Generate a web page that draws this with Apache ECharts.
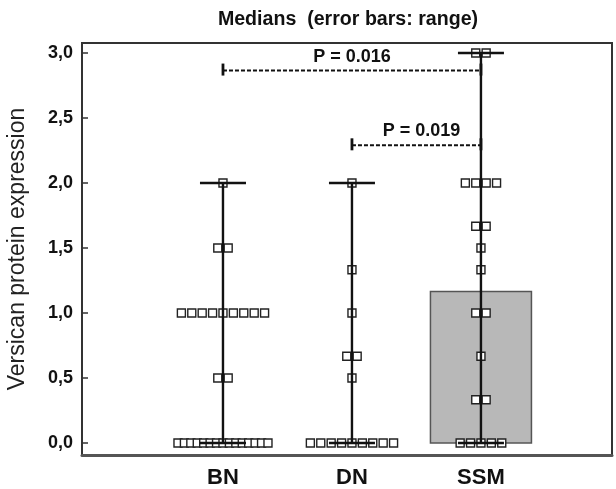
<!DOCTYPE html>
<html>
<head>
<meta charset="utf-8">
<script src="https://cdn.jsdelivr.net/npm/echarts@6/dist/echarts.min.js"></script>
<style>html,body{margin:0;padding:0;background:#fff;}#c{width:616px;height:489px;}</style>
</head>
<body>
<div id="c"></div>
<script>
// ---- data ----
var categories = ['BN', 'DN', 'SSM'];
var bnValues  = [0,0,0,0,0,0,0,0,0,0,0,0,0,0,0, 0.5,0.5, 1,1,1,1,1,1,1,1,1, 1.5,1.5, 2];
var dnValues  = [0,0,0,0,0,0,0,0,0, 0.5, 0.667,0.667, 1, 1.333, 2];
var ssmValues = [0,0,0,0,0, 0.333,0.333, 0.667, 1,1, 1.333, 1.5, 1.667,1.667, 2,2,2,2, 3,3];
var yTickValues = [0, 0.5, 1, 1.5, 2, 2.5, 3];
var comparisons = [
  { from: 'BN', to: 'SSM', level: 2.865, text: 'P = 0.016' },
  { from: 'DN', to: 'SSM', level: 2.29,  text: 'P = 0.019' }
];
var titleText = 'Medians  (error bars: range)';
var yAxisTitle = 'Versican protein expression';

var groups = [bnValues, dnValues, ssmValues];

function median(arr) {
  var s = arr.slice().sort(function (a, b) { return a - b; });
  var n = s.length;
  return n % 2 ? s[(n - 1) / 2] : (s[n / 2 - 1] + s[n / 2]) / 2;
}

var FONT = '"Liberation Sans", Arial, sans-serif';

// bars (medians) and ranges
var barData = groups.map(function (g, i) { return [i + 1, median(g)]; });
var rangeData = groups.map(function (g, i) {
  return [i + 1, Math.min.apply(null, g), Math.max.apply(null, g)];
});

// dot plot points, spread side by side at equal values
var pointData = [];
groups.forEach(function (g, gi) {
  var counts = {};
  g.forEach(function (v) { counts[v] = (counts[v] || 0) + 1; });
  Object.keys(counts).forEach(function (k) {
    var n = counts[k];
    var pitch = n > 1 ? Math.min(10.4, 90 / (n - 1)) : 0;
    for (var j = 0; j < n; j++) {
      pointData.push({
        value: [gi + 1, parseFloat(k)],
        symbolOffset: [(j - (n - 1) / 2) * pitch, 0]
      });
    }
  });
});

var bracketData = comparisons.map(function (c) {
  return [categories.indexOf(c.from) + 1, categories.indexOf(c.to) + 1, c.level];
});

var chart = echarts.init(document.getElementById('c'), null, { renderer: 'canvas' });
chart.setOption({
  animation: false,
  backgroundColor: '#fff',
  textStyle: { fontFamily: FONT },
  grid: { left: 82, right: 4, top: 43, bottom: 34, show: true, borderColor: '#333', borderWidth: 2 },
  graphic: [
    { type: 'text', x: 348, y: 20, style: { text: titleText, textAlign: 'center', textVerticalAlign: 'middle', font: 'bold 19.6px ' + FONT, fill: '#111' } },
    { type: 'text', x: 18, y: 249, rotation: Math.PI / 2, style: { text: yAxisTitle, textAlign: 'center', textVerticalAlign: 'middle', font: '23px ' + FONT, fill: '#222' } }
  ],
  xAxis: {
    type: 'value', min: -0.093, max: 4.016,
    splitLine: { show: false },
    axisLine: { show: true, onZero: false, lineStyle: { color: '#555', width: 3 } },
    axisTick: { show: false },
    axisLabel: {
      customValues: [1, 2, 3],
      formatter: function (v) { return categories[Math.round(v) - 1] || ''; },
      fontSize: 22, fontWeight: 'bold', color: '#111', margin: 12, fontFamily: FONT
    }
  },
  yAxis: {
    type: 'value', min: -0.092, max: 3.077,
    splitLine: { show: false },
    axisLine: { show: true, onZero: false, lineStyle: { color: '#333', width: 2 } },
    axisTick: { show: true, inside: true, length: 6, customValues: yTickValues, lineStyle: { color: '#333', width: 1.5 } },
    axisLabel: {
      customValues: yTickValues,
      formatter: function (v) { return v.toFixed(1).replace('.', ','); },
      fontSize: 18, fontWeight: 'bold', color: '#111', margin: 9, fontFamily: FONT
    }
  },
  series: [
    {
      type: 'custom', z: 1, data: barData, clip: false,
      renderItem: function (params, api) {
        var x = api.value(0), m = api.value(1);
        if (!(m > 0)) return null;
        var p0 = api.coord([x, 0]), p1 = api.coord([x, m]);
        return { type: 'rect', shape: { x: p0[0] - 50.5, y: p1[1], width: 101, height: p0[1] - p1[1] },
                 style: { fill: '#b8b8b8', stroke: '#555', lineWidth: 1.5 } };
      }
    },
    {
      type: 'scatter', z: 2, data: pointData, symbol: 'rect', symbolSize: 8,
      itemStyle: { color: '#fff', borderColor: '#222', borderWidth: 1.4, opacity: 1 }
    },
    {
      type: 'custom', z: 3, data: rangeData, clip: false,
      renderItem: function (params, api) {
        var x = api.value(0);
        var lo = api.coord([x, api.value(1)]), hi = api.coord([x, api.value(2)]);
        var st = { stroke: '#111', lineWidth: 2.4 };
        return { type: 'group', children: [
          { type: 'line', shape: { x1: lo[0], y1: lo[1], x2: hi[0], y2: hi[1] }, style: st },
          { type: 'line', shape: { x1: hi[0] - 23, y1: hi[1], x2: hi[0] + 23, y2: hi[1] }, style: st },
          { type: 'line', shape: { x1: lo[0] - 23, y1: lo[1], x2: lo[0] + 23, y2: lo[1] }, style: st }
        ] };
      }
    },
    {
      type: 'custom', z: 4, data: bracketData, clip: false,
      renderItem: function (params, api) {
        var a = api.coord([api.value(0), api.value(2)]);
        var b = api.coord([api.value(1), api.value(2)]);
        var tick = { stroke: '#111', lineWidth: 2.8 };
        return { type: 'group', children: [
          { type: 'line', shape: { x1: a[0], y1: a[1], x2: b[0], y2: b[1] }, style: { stroke: '#111', lineWidth: 2, lineDash: [4, 2] } },
          { type: 'line', shape: { x1: a[0], y1: a[1] - 7, x2: a[0], y2: a[1] + 5 }, style: tick },
          { type: 'line', shape: { x1: b[0], y1: b[1] - 7, x2: b[0], y2: b[1] + 5 }, style: tick },
          { type: 'text', style: { text: comparisons[params.dataIndex].text, x: (a[0] + b[0]) / 2 + (params.dataIndex === 1 ? 5 : 0), y: a[1] - 14,
              textAlign: 'center', textVerticalAlign: 'middle', font: 'bold 18px ' + FONT, fill: '#111' } }
        ] };
      }
    }
  ]
});
</script>
</body>
</html>
